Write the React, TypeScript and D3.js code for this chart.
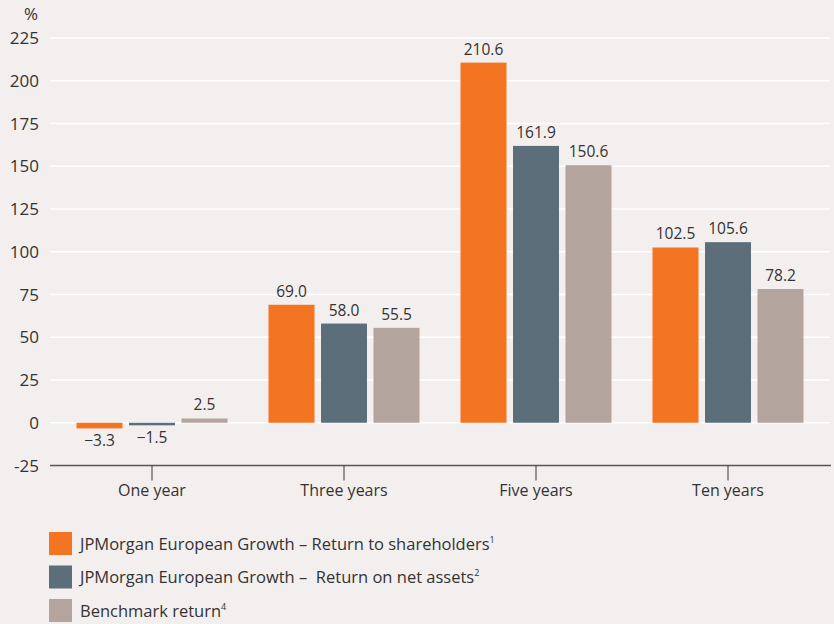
import React from "react";
import * as d3 from "d3";

const categories = ["One year", "Three years", "Five years", "Ten years"];
const seriesNames = [
  "JPMorgan European Growth – Return to shareholders",
  "JPMorgan European Growth –  Return on net assets",
  "Benchmark return",
];
const seriesSup = ["1", "2", "4"];
const shareholders = [-3.3, 69.0, 210.6, 102.5];
const netAssets = [-1.5, 58.0, 161.9, 105.6];
const benchmark = [2.5, 55.5, 150.6, 78.2];
const yTicks = [-25, 0, 25, 50, 75, 100, 125, 150, 175, 200, 225];
const colors = ["#f47521", "#5b6e7a", "#b3a59e"];

const W = 834;
const H = 624;
const FONT = "'Open Sans', 'Noto Sans', sans-serif";

export default function App() {
  const series = [shareholders, netAssets, benchmark];
  const y = d3.scaleLinear().domain([-25, 225]).range([465.5, 38]);
  const x = d3.scaleBand().domain(categories).range([56, 824]).padding(0);
  const barW = 46;
  const step = 52.5;
  const textColor = "#333";
  return (
    <svg width={W} height={H} style={{ position: "absolute", left: 0, top: 0, background: "#f3efee" }}>
      <rect x={0} y={0} width={W} height={H} fill="#f3efee" />
      {yTicks.filter((t) => t > -25).map((t) => (
        <line key={"g" + t} x1={50} x2={830} y1={y(t)} y2={y(t)} stroke="#ffffff" strokeWidth={1.6} />
      ))}
      {yTicks.map((t) => (
        <text key={"t" + t} x={39} y={y(t)} dy="0.36em" textAnchor="end" fontFamily={FONT} fontSize={17} fill={textColor}>
          {t}
        </text>
      ))}
      <text x={31} y={20} textAnchor="middle" fontFamily={FONT} fontSize={17} fill={textColor}>%</text>
      {categories.map((c, ci) => {
        const cx = (x(c) as number) + x.bandwidth() / 2;
        return (
          <g key={c}>
            {series.map((s, si) => {
              const v = s[ci];
              const bx = cx + (si - 1) * step - barW / 2;
              const top = Math.min(y(v), y(0));
              const h = Math.abs(y(v) - y(0));
              const label = v < 0 ? "−" + Math.abs(v).toFixed(1) : v.toFixed(1);
              return (
                <g key={si}>
                  <rect x={bx} y={top} width={barW} height={h} fill={colors[si]} />
                  <text
                    x={bx + barW / 2}
                    y={v < 0 ? y(v) + 18 : y(v) - 8}
                    textAnchor="middle"
                    fontFamily={FONT}
                    fontSize={15.5}
                    fill={textColor}
                  >
                    {label}
                  </text>
                </g>
              );
            })}
            <line x1={cx} x2={cx} y1={y(-25)} y2={y(-25) + 15} stroke="#555" strokeWidth={1.2} />
            <text x={cx} y={496} textAnchor="middle" fontFamily={FONT} fontSize={16} fill={textColor}>
              {c}
            </text>
          </g>
        );
      })}
      <line x1={50} x2={831} y1={y(-25)} y2={y(-25)} stroke="#555" strokeWidth={1.5} />
      {seriesNames.map((n, i) => (
        <g key={n} transform={`translate(49, ${532 + i * 33.5})`}>
          <rect x={0} y={0} width={23} height={23} fill={colors[i]} />
          <text x={31} y={17.5} fontFamily={FONT} fontSize={16.5} fill={textColor} style={{ whiteSpace: "pre" }}>
            {n}
            <tspan fontSize={9} dy={-7}>{seriesSup[i]}</tspan>
          </text>
        </g>
      ))}
    </svg>
  );
}
